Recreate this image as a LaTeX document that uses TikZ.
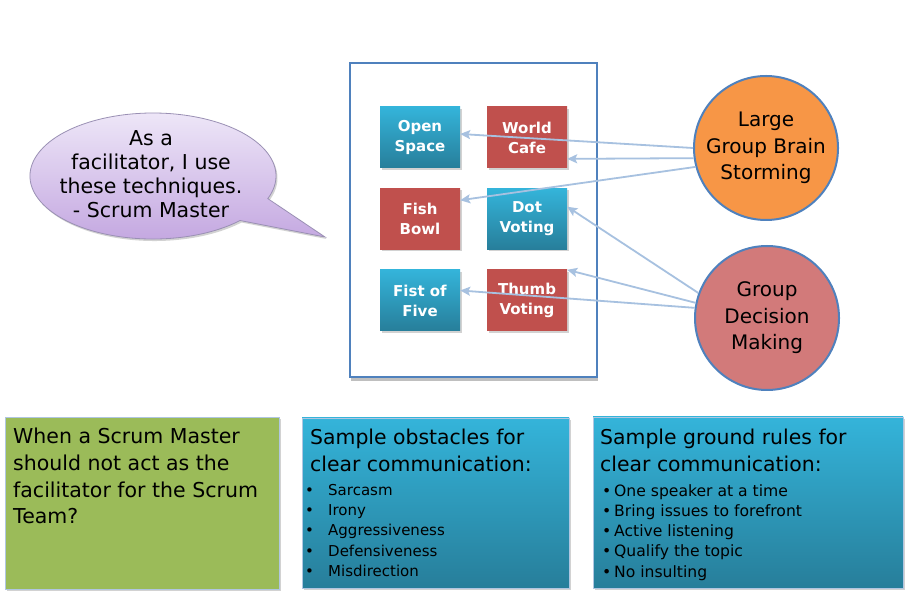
\documentclass[tikz,border=0pt]{standalone}
\usepackage{fontspec}
\setmainfont{DejaVu Sans}
\usetikzlibrary{arrows.meta,positioning,shadows}
\definecolor{ringblue}{HTML}{4F81BD}
\definecolor{tealtop}{HTML}{34B4DA}
\definecolor{tealbot}{HTML}{277E9A}
\definecolor{brick}{HTML}{C0504D}
\definecolor{sunset}{HTML}{F79646}
\definecolor{rosy}{HTML}{D27A7A}
\definecolor{palearrow}{HTML}{A7C1E0}
\definecolor{leaf}{HTML}{9BBB59}
\definecolor{lilactop}{HTML}{F0EAF9}
\definecolor{lilacbot}{HTML}{C3A6E0}
\definecolor{lilacedge}{HTML}{9A90B4}
\tikzset{
  softshadow/.style = {drop shadow={opacity=0.35, shadow xshift=1.5pt, shadow yshift=-2pt}},
  techblue/.style = {minimum width=80pt, minimum height=61pt, inner sep=0pt,
                     top color=tealtop, bottom color=tealbot, text=white, align=center,
                     font=\fontsize{15}{20}\selectfont\bfseries, softshadow},
  techred/.style  = {techblue, top color=brick, bottom color=brick},
  topicball/.style= {circle, minimum size=144pt, inner sep=0pt, draw=ringblue,
                     line width=2pt, align=center, font=\fontsize{20}{26.5}\selectfont},
  notebox/.style  = {inner sep=0pt, draw=ringblue!45, line width=0.6pt, softshadow},
  notetext/.style = {inner sep=0pt, anchor=north west, align=left},
  pointer/.style  = {-{Stealth[length=10pt,width=9pt,inset=2pt]}, draw=palearrow, line width=1.8pt},
}
\newcommand{\bul}[1]{\makebox[23pt][l]{\textbullet}#1}
\newcommand{\bulb}[1]{\makebox[12pt][l]{\textbullet}#1}
\begin{document}
\begin{tikzpicture}[x=1pt,y=1pt]
  \useasboundingbox[fill=white] (0,0) rectangle (909,597);
  % speech bubble
  \draw[lilacedge, line width=0.8pt, top color=lilactop, bottom color=lilacbot, softshadow]
    (240,376.5) -- (325,360) -- (267.8,398.4)
    arc[start angle=-21, end angle=315, x radius=123pt, y radius=63pt] -- cycle;
  \node[align=center, anchor=north, inner sep=0pt, font=\fontsize{20.5}{24}\selectfont]
    (quote) at (151,467) {As a\\facilitator, I use\\these techniques.\\- Scrum Master};
  % technique frame
  \node[draw=ringblue, line width=2pt, fill=white, minimum width=247pt, minimum height=314pt,
        inner sep=0pt, drop shadow={opacity=0.5, shadow xshift=1pt, shadow yshift=-4pt}]
    (frame) at (473.5,377) {};
  \node[techblue] (open)  at (420,459.5) {Open\\Space};
  \node[techred]  (wcafe) at (527,459.5) {World\\Cafe};
  \node[techred]  (fish)  at (420,378)   {Fish\\Bowl};
  \node[techblue] (dot)   at (527,378)   {Dot\\Voting};
  \node[techblue] (fist)  at (420,296.5) {Fist of\\Five};
  \node[techred]  (thumb) at (527,296.5) {Thumb\\Voting};
  % topics
  \node[topicball, fill=sunset] (lgb) at (766,449) {Large\\Group Brain\\Storming};
  \node[topicball, fill=rosy]   (gdm) at (767,279) {Group\\Decision\\Making};
  \draw[pointer] (lgb.180) -- (open.5);
  \draw[pointer] (lgb.188) -- (wcafe.-28);
  \draw[pointer] (lgb.195) -- (fish.25);
  \draw[pointer] (gdm.160) -- (dot.17);
  \draw[pointer] (gdm.168) -- (thumb.north east);
  \draw[pointer] (gdm.172) -- (fist.14);
  % notes below
  \node[notebox, fill=leaf, minimum width=274pt, minimum height=172pt] (askbox) at (142,94) {};
  \node[notetext, font=\fontsize{20.5}{26.7}\selectfont] (asktext) at (13,169)
    {When a Scrum Master\\should not act as the\\facilitator for the Scrum\\Team?};
  \node[notebox, top color=tealtop, bottom color=tealbot, minimum width=267pt, minimum height=170pt]
    (obstbox) at (435.5,94) {};
  \node[notetext, font=\fontsize{20.4}{27}\selectfont] (obsttitle) at (310,168)
    {Sample obstacles for\\clear communication:};
  \node[notetext, font=\fontsize{15}{20.3}\selectfont] (obstlist) at (305,113)
    {\bul{Sarcasm}\\\bul{Irony}\\\bul{Aggressiveness}\\\bul{Defensiveness}\\\bul{Misdirection}};
  \node[notebox, top color=tealtop, bottom color=tealbot, minimum width=310pt, minimum height=171pt]
    (rulebox) at (748,94.5) {};
  \node[notetext, font=\fontsize{20.4}{27}\selectfont] (ruletitle) at (600,168)
    {Sample ground rules for\\clear communication:};
  \node[notetext, font=\fontsize{15.6}{20.3}\selectfont] (rulelist) at (602,113)
    {\bulb{One speaker at a time}\\\bulb{Bring issues to forefront}\\\bulb{Active listening}\\\bulb{Qualify the topic}\\\bulb{No insulting}};
\end{tikzpicture}
\end{document}
